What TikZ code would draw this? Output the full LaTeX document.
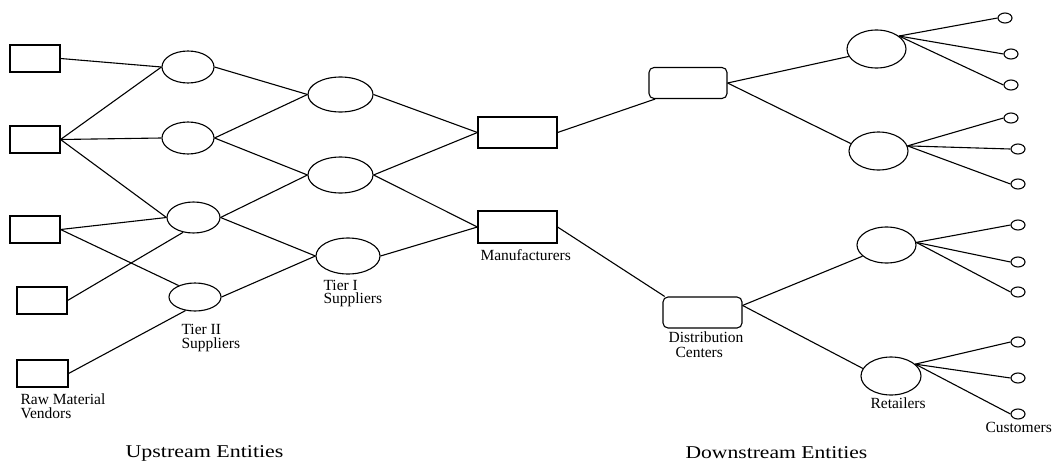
\documentclass[tikz,border=0pt]{standalone}
\usepackage{fontspec}
\setmainfont{Liberation Serif}
\usetikzlibrary{shapes.geometric}
\begin{document}
\begin{tikzpicture}[x=1pt,y=-1pt,line width=1.1pt,
  box/.style={draw,rectangle,inner sep=0pt,minimum width=#1,minimum height=27pt},
  oval/.style={draw,ellipse,inner sep=0pt},
  dcbox/.style={draw,rectangle,rounded corners=5pt,inner sep=0pt,minimum width=78pt,minimum height=31pt},
  cust/.style={draw,ellipse,inner sep=0pt,minimum width=14pt,minimum height=10pt},
  lbl/.style={inner sep=0pt,align=left,font=\fontsize{15.5}{13.5}\selectfont},
  ttl/.style={inner sep=0pt,font=\fontsize{18}{18}\selectfont}]
\useasboundingbox (0,0) rectangle (1054,463);
% raw material vendors
\node[box=50pt] (V1) at (35,58.5) {};
\node[box=50pt] (V2) at (35,139.5) {};
\node[box=50pt] (V3) at (35,229.5) {};
\node[box=50pt] (V4) at (42,300.5) {};
\node[box=51pt] (V5) at (42.5,373.5) {};
% tier II
\node[oval,minimum width=52pt,minimum height=32pt] (T2a) at (188,67) {};
\node[oval,minimum width=52pt,minimum height=32pt] (T2b) at (188,138) {};
\node[oval,minimum width=53pt,minimum height=31pt] (T2c) at (193.5,217.5) {};
\node[oval,minimum width=52pt,minimum height=28pt] (T2d) at (195,297) {};
% tier I
\node[oval,minimum width=65pt,minimum height=35pt] (T1a) at (340.5,94.5) {};
\node[oval,minimum width=65pt,minimum height=36pt] (T1b) at (340.5,175) {};
\node[oval,minimum width=64pt,minimum height=36pt] (T1c) at (348,256) {};
% manufacturers
\node[draw,rectangle,inner sep=0pt,minimum width=79pt,minimum height=31pt] (M1) at (517.5,132.5) {};
\node[draw,rectangle,inner sep=0pt,minimum width=79pt,minimum height=32pt] (M2) at (517.5,227) {};
% distribution centers
\node[dcbox] (DC1) at (688,83) {};
\node[dcbox,minimum width=79pt] (DC2) at (702.5,312.5) {};
% retailers
\node[oval,minimum width=59pt,minimum height=38pt] (R1) at (876.5,49) {};
\node[oval,minimum width=59pt,minimum height=38pt] (R2) at (878.5,151) {};
\node[oval,minimum width=59pt,minimum height=36pt] (R3) at (886.5,245) {};
\node[oval,minimum width=60pt,minimum height=38pt] (R4) at (891,376) {};
% customers
\node[cust] (c1) at (1005,18) {};
\node[cust] (c2) at (1011,54) {};
\node[cust] (c3) at (1011,85) {};
\node[cust] (c4) at (1011,118) {};
\node[cust] (c5) at (1018,149) {};
\node[cust] (c6) at (1018,184) {};
\node[cust] (c7) at (1018,225) {};
\node[cust] (c8) at (1018,262) {};
\node[cust] (c9) at (1018,292) {};
\node[cust] (c10) at (1018,342) {};
\node[cust] (c11) at (1018,378) {};
\node[cust] (c12) at (1018,414) {};
% connectors
\draw (V1.east) -- (T2a.west);
\draw (V2.east) -- (T2a.west);
\draw (V2.east) -- (T2b.west);
\draw (V2.east) -- (T2c.west);
\draw (V3.east) -- (T2c.west);
\draw (V3.east) -- (T2d.145);
\draw (V4.east) -- (T2c.235);
\draw (V5.east) -- (T2d.235);
\draw (T2a.east) -- (T1a.west);
\draw (T2b.east) -- (T1a.west);
\draw (T2b.east) -- (T1b.west);
\draw (T2c.east) -- (T1b.west);
\draw (T2c.east) -- (T1c.west);
\draw (T2d.east) -- (T1c.west);
\draw (T1a.east) -- (M1.west);
\draw (T1b.east) -- (M1.west);
\draw (T1b.east) -- (M2.west);
\draw (T1c.east) -- (M2.west);
\draw (M1.east) -- (DC1.206);
\draw (M2.east) -- (DC2.157);
\draw (DC1.east) -- (R1.195);
\draw (DC1.east) -- (R2.165);
\draw (DC2.10) -- (R3.205);
\draw (DC2.10) -- (R4.165);
\foreach \c in {c1,c2,c3} \draw (R1.30) -- (\c.west);
\foreach \c in {c4,c5,c6} \draw (R2.10) -- (\c.west);
\foreach \c in {c7,c8,c9} \draw (R3.5) -- (\c.west);
\foreach \c in {c10,c11,c12} \draw (R4.26) -- (\c.west);
% labels (base anchor = baseline of last line)
\node[lbl,anchor=base west] (lV) at (20,418.3) {Raw Material\\Vendors};
\node[lbl,anchor=base west] (lT2) at (181,348) {Tier II\\Suppliers};
\node[lbl,anchor=base west] (lT1) at (323,303.5) {Tier I\\Suppliers};
\node[lbl,anchor=base west] (lM) at (480,260) {Manufacturers};
\node[lbl,anchor=base west,font=\fontsize{15.5}{14.5}\selectfont] (lDC) at (668,357) {Distribution\\\hspace*{7pt}Centers};
\node[lbl,anchor=base west] (lR) at (870,408) {Retailers};
\node[lbl,anchor=base west] (lC) at (985,432) {Customers};
\node[ttl,anchor=base west] (up) at (125,457.7) {\scalebox{1.22}[1]{Upstream Entities}};
\node[ttl,anchor=base west] (down) at (685,458) {\scalebox{1.2}[1]{Downstream Entities}};
\end{tikzpicture}
\end{document}
